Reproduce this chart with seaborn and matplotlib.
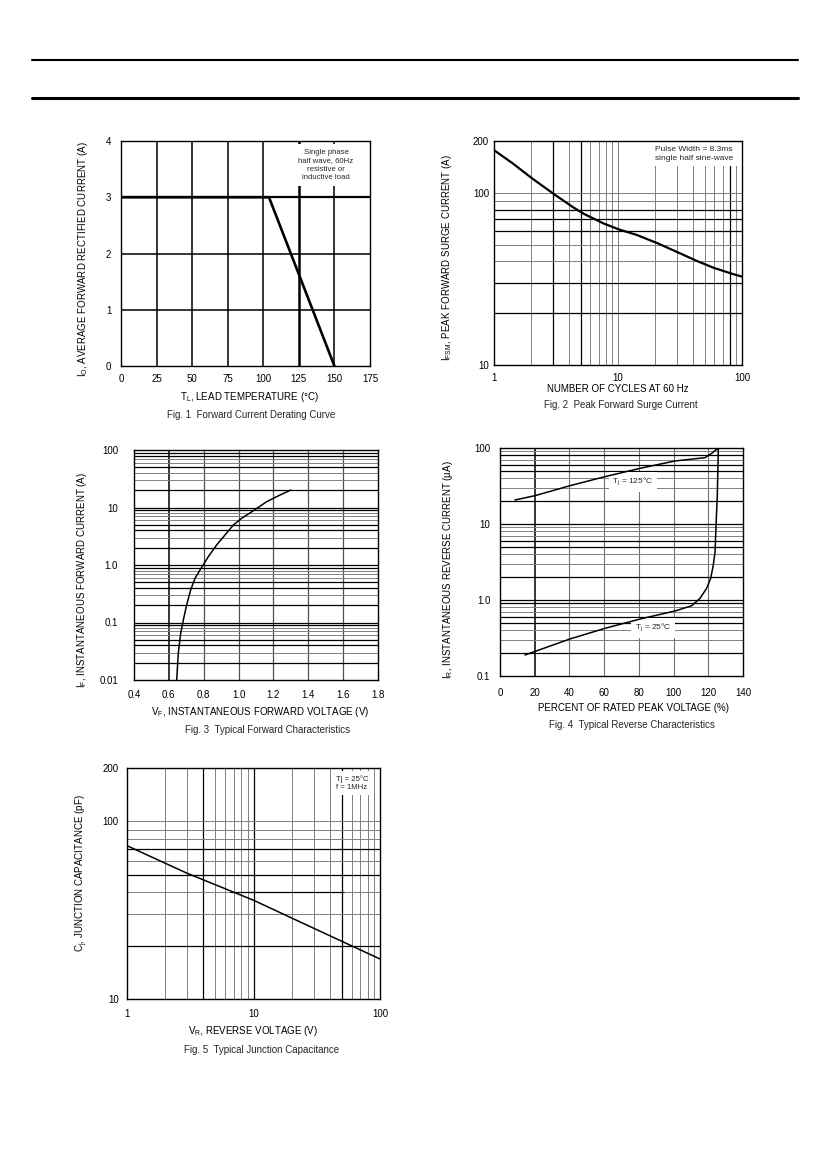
import numpy as np
import pandas as pd
import seaborn as sns
import matplotlib.pyplot as plt
from matplotlib.lines import Line2D
from matplotlib.ticker import FixedLocator, FixedFormatter, NullLocator

# --- adatok ---
# Fig. 1  derating
derate_temp = [0, 104, 150]
derate_current = [3, 3, 0]

# Fig. 2  surge current
surge_cycles = [1, 1.42, 2.07, 3.19, 4.35, 5.34, 7.61, 10.1, 14.2, 20.9,
                31.7, 43.3, 59, 84, 100]
surge_current = [177, 148, 120, 96, 82.4, 75.3, 66.5, 61.4, 56.9, 50.9,
                 44.5, 40.2, 36.7, 33.8, 32.6]

# Fig. 3  forward characteristics
fwd_voltage = [0.645, 0.654, 0.668, 0.683, 0.702, 0.725, 0.750, 0.788, 0.826,
               0.874, 0.922, 0.970, 1.018, 1.085, 1.161, 1.238, 1.299]
fwd_current = [0.01, 0.0291, 0.0649, 0.1105, 0.201, 0.367, 0.586, 0.91, 1.39,
               2.23, 3.32, 4.96, 6.49, 8.79, 12.6, 16.5, 20.1]

# Fig. 4  reverse characteristics
rev_pct_125 = [8.6, 20.2, 40.3, 60.5, 80.7, 100.8, 118.1, 121.9, 125.8]
rev_ir_125 = [20.7, 23.6, 31.9, 42, 54, 67.5, 74.6, 85, 100]
rev_pct_25 = [14.4, 40.3, 60.5, 80.7, 100.8, 110.4, 115.2, 119.1, 121.4,
              122.9, 123.9, 124.4, 125.2, 125.8]
rev_ir_25 = [0.189, 0.307, 0.424, 0.562, 0.717, 0.84, 1.05, 1.43, 1.93,
             2.89, 4.32, 8.78, 24.1, 100]

# Fig. 5  junction capacitance
cap_voltage = [1, 3, 10, 30, 100]
cap_pf = [73, 51, 36, 25, 16.8]

# tick labels
fig1_xticks = [0, 25, 50, 75, 100, 125, 150, 175]
fig1_yticks = [0, 1, 2, 3, 4]
fig2_xticks, fig2_xlabels = [1, 10, 100], ['1', '10', '100']
fig2_yticks, fig2_ylabels = [10, 100, 200], ['10', '100', '200']
fig3_xticks = [0.4, 0.6, 0.8, 1.0, 1.2, 1.4, 1.6, 1.8]
fig3_xlabels = ['0.4', '0.6', '0.8', '1.0', '1.2', '1.4', '1.6', '1.8']
fig3_yticks, fig3_ylabels = [0.01, 0.1, 1, 10, 100], ['0.01', '0.1', '1.0', '10', '100']
fig4_xticks = [0, 20, 40, 60, 80, 100, 120, 140]
fig4_yticks, fig4_ylabels = [0.1, 1, 10, 100], ['0.1', '1.0', '10', '100']
fig5_xticks, fig5_xlabels = [1, 10, 100], ['1', '10', '100']
fig5_yticks, fig5_ylabels = [10, 100, 200], ['10', '100', '200']

# --- stílus ---
sns.set_theme(style="white")
plt.rcParams['font.family'] = ['Liberation Sans', 'DejaVu Sans']
plt.rcParams['mathtext.fontset'] = 'custom'
plt.rcParams['mathtext.rm'] = 'Liberation Sans'
plt.rcParams['axes.edgecolor'] = 'black'
plt.rcParams['axes.linewidth'] = 1.0

W, H = 826, 1169
fig = plt.figure(figsize=(W / 100, H / 100), dpi=100)
fig.patch.set_facecolor('white')

DARK = dict(color='black', lw=0.9, zorder=1)
GRAY = dict(color='#808080', lw=0.7, zorder=1)
FS = 7


def add_ax(box):
    l, t, r, b = box
    return fig.add_axes([l / W, 1 - b / H, (r - l) / W, (b - t) / H])


def frac(box, x, y):
    l, t, r, b = box
    return (x - l) / (r - l), (b - y) / (b - t)


def style_ax(ax, box, xlab, ylab, xl_xy, yl_xy, cap, cap_xy, xpad, ypad):
    ax.set_facecolor('white')
    ax.grid(False)
    ax.tick_params(length=0, labelsize=FS, colors='black')
    ax.tick_params(axis='x', pad=xpad)
    ax.tick_params(axis='y', pad=ypad)
    ax.xaxis.set_minor_locator(NullLocator())
    ax.yaxis.set_minor_locator(NullLocator())
    ax.set_xlabel(xlab, fontsize=FS, color='black')
    ax.set_ylabel(ylab, fontsize=FS, color='black')
    ax.xaxis.set_label_coords(*frac(box, *xl_xy))
    ax.yaxis.set_label_coords(*frac(box, *yl_xy))
    ax.xaxis.label.set_va('center')
    ax.yaxis.label.set_va('center')
    ax.yaxis.label.set_ha('center')
    fig.text(cap_xy[0] / W, 1 - cap_xy[1] / H, cap, fontsize=FS,
             ha='center', va='center')
    for s in ax.spines.values():
        s.set_color('black')
        s.set_linewidth(1.0)
        s.set_zorder(5)


def box_text(ax, box, x, y, s, fs=5.5, pad=2.5):
    fx, fy = frac(box, x, y)
    ax.text(fx, fy, s, transform=ax.transAxes, fontsize=fs, ha='center',
            va='center', linespacing=1.25, zorder=3,
            bbox=dict(fc='white', ec='none', pad=pad))


def log_grid(ax, axis, decades, dark_vals):
    for d in decades:
        for m in range(2, 11):
            v = m * d
            kw = DARK if any(np.isclose(v, dv) for dv in dark_vals) else GRAY
            if axis == 'x':
                ax.axvline(v, **kw)
            else:
                ax.axhline(v, **kw)


# --- Fig. 1 ---
box1 = (121, 141, 370, 366)
ax1 = add_ax(box1)
sns.lineplot(x=derate_temp, y=derate_current, ax=ax1, color='black', lw=1.9,
             estimator=None, zorder=4)
for v in [25, 50, 75, 100, 150]:
    ax1.axvline(v, color='black', lw=1.1, zorder=1)
ax1.axvline(125, color='black', lw=1.8, zorder=1)
for v in [1, 2]:
    ax1.axhline(v, color='black', lw=1.1, zorder=1)
ax1.axhline(3, color='black', lw=1.6, zorder=1)
ax1.set_xlim(0, 175)
ax1.set_ylim(0, 4)
ax1.set_xticks(fig1_xticks)
ax1.set_yticks(fig1_yticks)
style_ax(ax1, box1, r'T$_\mathregular{L}$, LEAD TEMPERATURE (°C)',
         r'I$_\mathregular{O}$, AVERAGE FORWARD RECTIFIED CURRENT (A)',
         (249, 397), (83, 259), 'Fig. 1  Forward Current Derating Curve',
         (251, 415), 6, 7)
box_text(ax1, box1, 326, 165,
         'Single phase\nhalf wave, 60Hz\nresistive or\ninductive load',
         fs=5.6, pad=3.5)

# --- Fig. 2 ---
box2 = (494, 141, 742, 365)
ax2 = add_ax(box2)
sns.lineplot(x=surge_cycles, y=surge_current, ax=ax2, color='black', lw=1.6,
             estimator=None, zorder=4)
ax2.set_xscale('log')
ax2.set_yscale('log')
log_grid(ax2, 'x', [1, 10], [3, 5, 80])
log_grid(ax2, 'y', [10], [20, 30, 60, 70, 80])
ax2.set_xlim(1, 100)
ax2.set_ylim(10, 200)
ax2.xaxis.set_major_locator(FixedLocator(fig2_xticks))
ax2.xaxis.set_major_formatter(FixedFormatter(fig2_xlabels))
ax2.yaxis.set_major_locator(FixedLocator(fig2_yticks))
ax2.yaxis.set_major_formatter(FixedFormatter(fig2_ylabels))
style_ax(ax2, box2, 'NUMBER OF CYCLES AT 60 Hz',
         r'I$_\mathregular{FSM}$, PEAK FORWARD SURGE CURRENT (A)',
         (618, 389), (447, 258), 'Fig. 2  Peak Forward Surge Current',
         (621, 405), 6, 3.5)
box_text(ax2, box2, 694, 154, 'Pulse Width = 8.3ms\nsingle half sine-wave',
         fs=6, pad=3.5)

# --- Fig. 3 ---
box3 = (134, 450, 378, 680)
ax3 = add_ax(box3)
sns.lineplot(x=fwd_voltage, y=fwd_current, ax=ax3, color='black', lw=1.1,
             estimator=None, zorder=4)
ax3.set_yscale('log')
ax3.axvline(0.6, color='black', lw=1.1, zorder=1)
for v in [0.8, 1.0, 1.2, 1.4, 1.6]:
    ax3.axvline(v, color='#505050', lw=0.9, zorder=1)
log_grid(ax3, 'y', [0.01, 0.1, 1, 10], [0.02, 0.04, 0.05, 0.09, 0.1,
                                        0.2, 0.4, 0.5, 0.9, 1,
                                        2, 4, 5, 9, 10,
                                        20, 50, 80, 90])
ax3.set_xlim(0.4, 1.8)
ax3.set_ylim(0.01, 100)
ax3.set_xticks(fig3_xticks)
ax3.set_xticklabels(fig3_xlabels)
ax3.yaxis.set_major_locator(FixedLocator(fig3_yticks))
ax3.yaxis.set_major_formatter(FixedFormatter(fig3_ylabels))
style_ax(ax3, box3, r'V$_\mathregular{F}$, INSTANTANEOUS FORWARD VOLTAGE (V)',
         r'I$_\mathregular{F}$, INSTANTANEOUS FORWARD CURRENT (A)',
         (260, 712), (82, 580), 'Fig. 3  Typical Forward Characteristics',
         (268, 730), 7, 11.5)

# --- Fig. 4 ---
box4 = (500, 448, 743, 676)
ax4 = add_ax(box4)
sns.lineplot(x=rev_pct_125, y=rev_ir_125, ax=ax4, color='black', lw=1.1,
             estimator=None, zorder=4)
sns.lineplot(x=rev_pct_25, y=rev_ir_25, ax=ax4, color='black', lw=1.1,
             estimator=None, zorder=4)
ax4.set_yscale('log')
ax4.axvline(20, color='black', lw=1.1, zorder=1)
for v in [40, 60, 80, 100, 120]:
    ax4.axvline(v, color='#707070', lw=0.8, zorder=1)
log_grid(ax4, 'y', [0.1, 1, 10], [0.2, 0.5, 0.6, 0.9, 1,
                                  2, 5, 6, 10,
                                  20, 50, 60, 80])
ax4.set_xlim(0, 140)
ax4.set_ylim(0.1, 100)
ax4.set_xticks(fig4_xticks)
ax4.yaxis.set_major_locator(FixedLocator(fig4_yticks))
ax4.yaxis.set_major_formatter(FixedFormatter(fig4_ylabels))
style_ax(ax4, box4, 'PERCENT OF RATED PEAK VOLTAGE (%)',
         r'I$_\mathregular{R}$, INSTANTANEOUS REVERSE CURRENT (µA)',
         (633, 708), (448, 570), 'Fig. 4  Typical Reverse Characteristics',
         (632, 725), 9, 7)
box_text(ax4, box4, 633, 482, r'T$_\mathregular{j}$ = 125°C', fs=6)
box_text(ax4, box4, 653, 628, r'T$_\mathregular{j}$ = 25°C', fs=6)

# --- Fig. 5 ---
box5 = (127, 768, 380, 999)
ax5 = add_ax(box5)
sns.lineplot(x=cap_voltage, y=cap_pf, ax=ax5, color='black', lw=1.1,
             estimator=None, zorder=4)
ax5.set_xscale('log')
ax5.set_yscale('log')
log_grid(ax5, 'x', [1, 10], [4, 10, 50])
log_grid(ax5, 'y', [10], [20, 50, 70])
ax5.hlines(40, 6.5, 52, color='black', lw=0.9, zorder=1)
ax5.set_xlim(1, 100)
ax5.set_ylim(10, 200)
ax5.xaxis.set_major_locator(FixedLocator(fig5_xticks))
ax5.xaxis.set_major_formatter(FixedFormatter(fig5_xlabels))
ax5.yaxis.set_major_locator(FixedLocator(fig5_yticks))
ax5.yaxis.set_major_formatter(FixedFormatter(fig5_ylabels))
style_ax(ax5, box5, r'V$_\mathregular{R}$, REVERSE VOLTAGE (V)',
         r'C$_\mathregular{j}$, JUNCTION CAPACITANCE (pF)',
         (253, 1031), (82, 873), 'Fig. 5  Typical Junction Capacitance',
         (262, 1050), 7, 6)
box_text(ax5, box5, 352, 783, 'Tj = 25°C\nf = 1MHz', fs=5.6, pad=3)

# --- fejléc vonalak ---
fig.add_artist(Line2D([32 / W, 798 / W], [1 - 60 / H, 1 - 60 / H],
                      color='black', lw=1.5, transform=fig.transFigure))
fig.add_artist(Line2D([32 / W, 798 / W], [1 - 98 / H, 1 - 98 / H],
                      color='black', lw=2.2, transform=fig.transFigure))

fig.savefig('out.png', dpi=100, facecolor='white')
